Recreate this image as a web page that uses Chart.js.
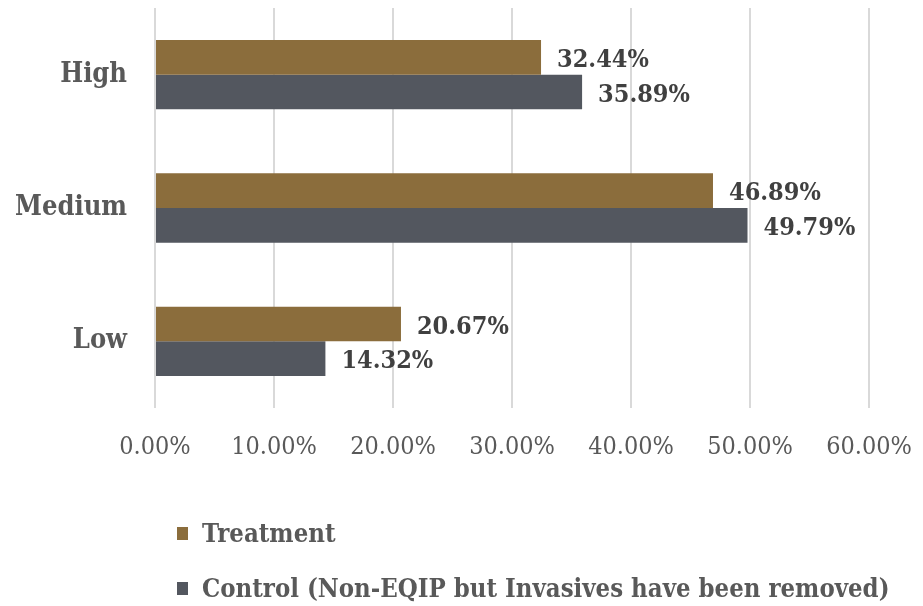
<!DOCTYPE html>
<html>
<head>
<meta charset="utf-8">
<script src="https://cdn.jsdelivr.net/npm/chart.js@4"></script>
<style>
  html, body { margin: 0; padding: 0; background: #fff; }
  #wrap { width: 923px; height: 606px; }
</style>
</head>
<body>
<div id="wrap"><canvas id="chart" width="923" height="606"></canvas></div>
<script>
const categories = ["High", "Medium", "Low"];
const treatment = [32.44, 46.89, 20.67];
const control = [35.89, 49.79, 14.32];
const xTicks = [0, 10, 20, 30, 40, 50, 60];

const seriesNames = ["Treatment", "Control (Non-EQIP but Invasives have been removed)"];
const seriesColors = ["#8B6D3C", "#53575F"];

// value labels at bar ends
const valueLabels = {
  id: 'valueLabels',
  afterDatasetsDraw(chart) {
    const ctx = chart.ctx;
    ctx.save();
    ctx.font = 'bold 25px "DejaVu Serif Condensed"';
    ctx.fillStyle = '#404040';
    ctx.textBaseline = 'middle';
    chart.data.datasets.forEach((ds, i) => {
      chart.getDatasetMeta(i).data.forEach((bar, j) => {
        ctx.fillText(ds.data[j].toFixed(2) + '%', bar.x + 16, bar.y + 3);
      });
    });
    ctx.restore();
  }
};

// legend stacked under the axis, left aligned
const bottomLegend = {
  id: 'bottomLegend',
  afterDraw(chart) {
    const ctx = chart.ctx;
    const top = chart.chartArea.bottom;
    ctx.save();
    ctx.font = 'bold 25.5px "DejaVu Serif Condensed"';
    ctx.textBaseline = 'middle';
    chart.data.datasets.forEach((ds, i) => {
      const y = top + 126 + i * 55;
      ctx.fillStyle = ds.backgroundColor;
      ctx.fillRect(177, y - 7, 11, 13);
      ctx.fillStyle = '#595959';
      ctx.fillText(ds.label, 202, y + 1);
    });
    ctx.restore();
  }
};

new Chart(document.getElementById('chart'), {
  type: 'bar',
  data: {
    labels: categories,
    datasets: [
      { label: seriesNames[0], data: treatment, backgroundColor: seriesColors[0] },
      { label: seriesNames[1], data: control, backgroundColor: seriesColors[1] }
    ]
  },
  options: {
    indexAxis: 'y',
    responsive: false,
    animation: false,
    layout: { padding: { left: 0, right: 54, top: 8, bottom: 0 } },
    datasets: { bar: { categoryPercentage: 0.52, barPercentage: 1.0 } },
    plugins: { legend: { display: false }, tooltip: { enabled: false } },
    scales: {
      x: {
        min: 0, max: 60,
        afterBuildTicks(scale) { scale.ticks = xTicks.map(v => ({ value: v })); },
        afterFit(scale) {
          scale.height = 198;
          scale.paddingLeft = 0;
          scale.paddingRight = 0;
        },
        grid: { color: '#d9d9d9', lineWidth: 2, drawTicks: false },
        border: { display: false },
        ticks: {
          padding: 24,
          color: '#595959',
          font: { family: '"DejaVu Serif Condensed"', size: 25 },
          callback: v => v.toFixed(2) + '%'
        }
      },
      y: {
        afterFit(scale) {
          scale.width = 155;
          scale.paddingTop = 0;
          scale.paddingBottom = 0;
        },
        grid: { display: false },
        border: { display: false },
        ticks: {
          padding: 20,
          color: '#595959',
          font: { family: '"DejaVu Serif Condensed"', size: 27, weight: 'bold' }
        }
      }
    }
  },
  plugins: [valueLabels, bottomLegend]
});
</script>
</body>
</html>
